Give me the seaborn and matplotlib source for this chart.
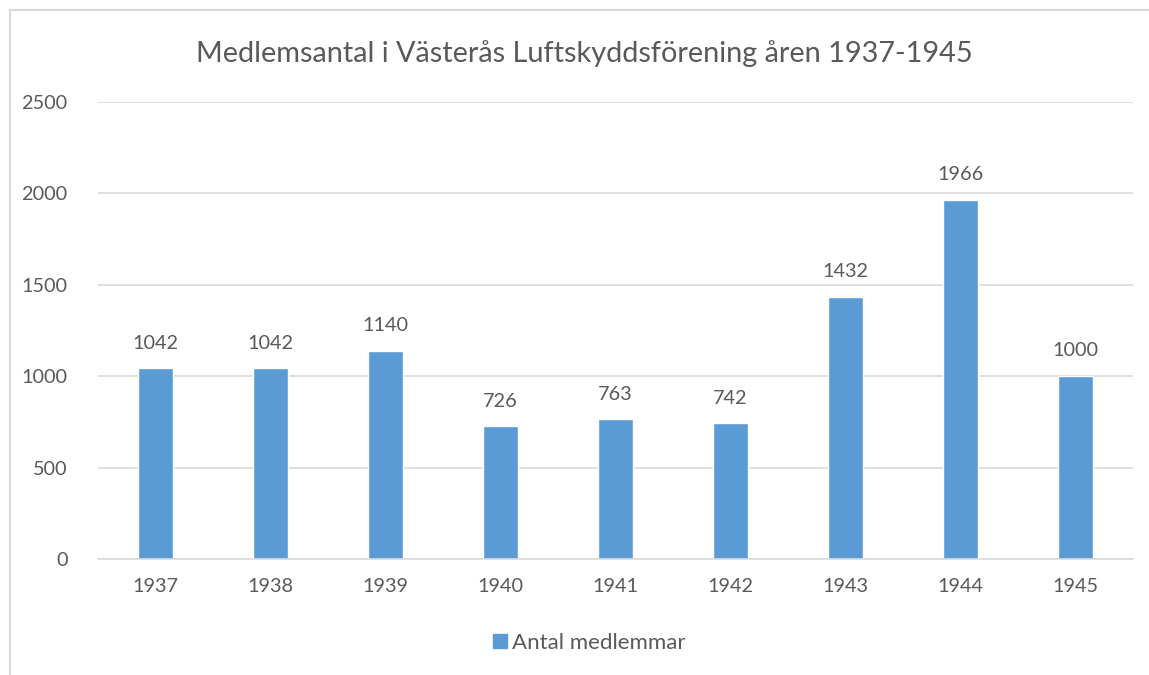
import matplotlib
matplotlib.use('Agg')
import pandas as pd
from matplotlib import pyplot as plt
from matplotlib.patches import Patch
import seaborn as sns

# data
years = ['1937', '1938', '1939', '1940', '1941', '1942', '1943', '1944', '1945']
members = [1042, 1042, 1140, 726, 763, 742, 1432, 1966, 1000]
series_name = 'Antal medlemmar'
title = 'Medlemsantal i Västerås Luftskyddsförening åren 1937-1945'

df = pd.DataFrame({'year': years, 'members': members, 'serie': series_name})

sns.set_theme(style='white')
plt.rcParams['font.family'] = ['Lato', 'DejaVu Sans']
txt = '#595959'
blue = '#5B9BD5'

fig = plt.figure(figsize=(11.49, 6.75), dpi=100)
ax = fig.add_axes([0.0853, 0.172, 0.9007, 0.677])

sns.barplot(data=df, x='year', y='members', hue='serie', palette=[blue],
            width=0.31, saturation=1, ax=ax, legend=False)

ax.set_ylim(0, 2500)
ax.set_xlim(-0.5, len(years) - 0.5)
ax.set_yticks(range(0, 2501, 500))
ax.yaxis.grid(True, color='#D9D9D9', linewidth=1.2)
ax.set_axisbelow(True)
for s in ['top', 'right', 'left']:
    ax.spines[s].set_visible(False)
ax.spines['bottom'].set_color('#D9D9D9')
ax.spines['bottom'].set_linewidth(1.2)
ax.tick_params(axis='both', length=0, labelsize=14.3, labelcolor=txt)
ax.tick_params(axis='x', pad=14)
ax.tick_params(axis='y', pad=22)
ax.set_xlabel('')
ax.set_ylabel('')

# value labels
for c in ax.containers:
    ax.bar_label(c, fmt='%d', padding=12, fontsize=14.3, color=txt)

fig.text(0.509, 0.921, title, ha='center', va='center', fontsize=20.8, color=txt)

# legend
fig.legend(handles=[Patch(color=blue, label=series_name)], loc='center',
           bbox_to_anchor=(0.513, 0.047), frameon=False, fontsize=16,
           labelcolor=txt, handlelength=0.6, handleheight=0.6, handletextpad=0.25)

# chart area border
fig.add_artist(plt.Line2D([0.0087, 0.0087], [0, 0.985], color='#D9D9D9', lw=1.5))
fig.add_artist(plt.Line2D([0.0087, 1], [0.985, 0.985], color='#D9D9D9', lw=1.5))

fig.savefig('out.png', dpi=100, facecolor='white')
